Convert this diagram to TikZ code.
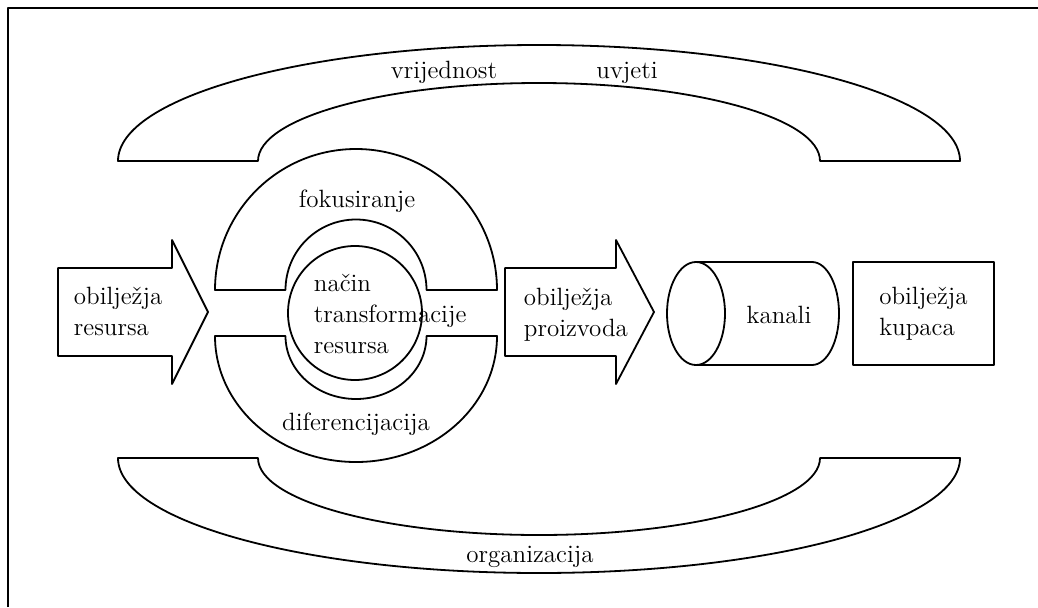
\documentclass[tikz,border=0pt]{standalone}
\usepackage{fontspec}

\begin{document}
\begin{tikzpicture}[
                x = 0.5pt, y = 0.5pt, % one unit = one pixel of the scan
                line width = 0.9pt, % line style
                line join = round
            ]

            \tikzstyle{txt}=[inner sep = 0pt, font = \fontsize{12.5}{15.5}\selectfont]
            \tikzstyle{blok}=[draw = black, txt, minimum width = 70.5pt,
            minimum height = 51.5pt, align = left]

            \useasboundingbox (0,0) rectangle (1038,607);
            \draw (8,0) -- (8,599) -- (1038,599);

            % upper and lower bands
            \draw (118,446) arc[start angle=180, end angle=0, x radius=421, y radius=116]
            -- (820,446) arc[start angle=0, end angle=180, x radius=281, y radius=78] -- cycle;
            \draw (118,149) arc[start angle=180, end angle=360, x radius=421, y radius=115]
            -- (820,149) arc[start angle=360, end angle=180, x radius=281, y radius=77] -- cycle;

            % split rings
            \draw (215,317) arc[start angle=180, end angle=0, radius=141]
            -- (426.5,317) arc[start angle=0, end angle=180, radius=70.5] -- cycle;
            \draw (215,271) arc[start angle=180, end angle=360, x radius=141, y radius=126]
            -- (426.5,271) arc[start angle=360, end angle=180, x radius=70.5, y radius=63] -- cycle;
            \draw (355,294) circle[radius=67];

            % block arrows
            \draw (58,251) -- (58,339) -- (172,339) -- (172,367) -- (208,295)
            -- (172,223) -- (172,251) -- cycle;
            \draw (505,251) -- (505,339) -- (616,339) -- (616,367) -- (654,295)
            -- (616,223) -- (616,251) -- cycle;

            % cylinder
            \draw (696,293.5) ellipse[x radius=29, y radius=51.5];
            \draw (696,345) -- (812,345) arc[start angle=90, end angle=-90, x radius=27,
            y radius=51.5] -- (696,242);

            \node (vrijednost) [txt, anchor=base] at (444,529) {vrijednost};
            \node (uvjeti) [txt, anchor=base] at (627,529) {uvjeti};
            \node (organizacija) [txt, anchor=base] at (530,45) {organizacija};
            \node (fokus) [txt, anchor=base] at (357,400) {fokusiranje};
            \node (difer) [txt, anchor=base] at (356,177) {diferencijacija};
            \node (nacin) [txt, anchor=west, align=left] at (313,293)
            {način\\transformacije\\resursa};
            \node (resursi) [txt, anchor=west, align=left] at (73,296)
            {obilježja\\resursa};
            \node (proizvodi) [txt, anchor=west, align=left] at (523,292)
            {obilježja\\proizvoda};
            \node (kanali) [txt, anchor=base] at (779,284) {kanali};
            \node (kupci) [blok] at (923.5,293.5) {obilježja\\kupaca};

        \end{tikzpicture}
\end{document}
